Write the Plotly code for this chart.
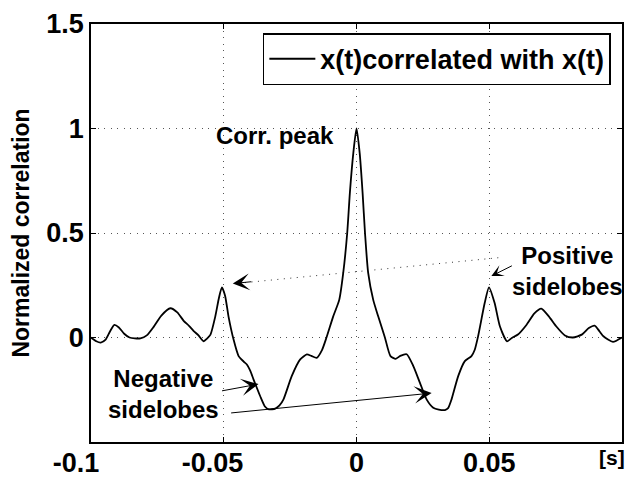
import plotly.graph_objects as go

# Normalized autocorrelation of x(t), lag axis in seconds
lag_s = [
    -0.1000, -0.0980, -0.0963, -0.0945, -0.0928, -0.0912, -0.0895, -0.0875,
    -0.0855, -0.0835, -0.0814, -0.0790, -0.0764, -0.0735, -0.0701, -0.0675,
    -0.0651, -0.0630, -0.0614, -0.0595, -0.0576, -0.0563, -0.0550, -0.0532,
    -0.0518, -0.0507, -0.0495, -0.0482, -0.0463, -0.0444, -0.0425, -0.0413,
    -0.0400, -0.0388, -0.0363, -0.0345, -0.0330, -0.0306, -0.0290, -0.0275,
    -0.0244, -0.0212, -0.0187, -0.0170, -0.0150, -0.0130, -0.0113, -0.0088,
    -0.0065, -0.0050, -0.0035, -0.0025, -0.0012, 0.0000, 0.0012, 0.0023,
    0.0032, 0.0044, 0.0063, 0.0082, 0.0107, 0.0128, 0.0148, 0.0165,
    0.0189, 0.0214, 0.0239, 0.0264, 0.0289, 0.0310, 0.0333, 0.0345,
    0.0358, 0.0383, 0.0408, 0.0433, 0.0445, 0.0458, 0.0483, 0.0499,
    0.0520, 0.0540, 0.0567, 0.0585, 0.0608, 0.0640, 0.0670, 0.0696,
    0.0725, 0.0752, 0.0785, 0.0815, 0.0850, 0.0875, 0.0897, 0.0915,
    0.0930, 0.0966, 0.1000,
]
corr = [
    0.000, -0.018, -0.024, -0.010, 0.030, 0.060, 0.048, 0.018,
    0.000, -0.004, -0.004, 0.010, 0.051, 0.105, 0.140, 0.120,
    0.080, 0.055, 0.032, 0.010, -0.018, -0.005, 0.014, 0.100,
    0.190, 0.240, 0.200, 0.100, -0.010, -0.089, -0.115, -0.129,
    -0.160, -0.200, -0.280, -0.330, -0.344, -0.340, -0.325, -0.296,
    -0.185, -0.105, -0.081, -0.088, -0.097, -0.060, 0.000, 0.100,
    0.180, 0.309, 0.500, 0.691, 0.882, 1.000, 0.882, 0.691,
    0.500, 0.309, 0.180, 0.100, 0.000, -0.089, -0.102, -0.088,
    -0.080, -0.137, -0.217, -0.296, -0.336, -0.345, -0.347, -0.338,
    -0.296, -0.185, -0.113, -0.089, -0.060, 0.006, 0.166, 0.240,
    0.166, 0.054, -0.018, -0.002, 0.014, 0.060, 0.115, 0.138,
    0.100, 0.054, 0.010, 0.000, 0.015, 0.045, 0.057, 0.030,
    0.006, -0.021, 0.000,
]

NBSP = "\u00a0"
x_ticks = [-0.1, -0.05, 0, 0.05, 0.1]
# negative labels carry trailing padding so the digits sit left of the tick
x_tick_text = ["-0.1" + NBSP * 4, "-0.05" + NBSP * 3, "0", "0.05", ""]
y_ticks = [0, 0.5, 1, 1.5]
y_tick_text = ["0", "0.5", "1", "1.5"]

FONT = "Liberation Sans, Arial, Helvetica, sans-serif"
GRID_DASH = "1px,5.5px"

fig = go.Figure()
fig.add_trace(go.Scatter(
    x=lag_s, y=corr, mode="lines",
    line=dict(color="black", width=1.8, shape="spline", smoothing=0.6),
    name="x(t)correlated with x(t)",
))

axis_common = dict(
    showline=True, linecolor="black", linewidth=1.5, mirror="ticks",
    ticks="inside", ticklen=5, tickwidth=1, tickcolor="black",
    showgrid=True, gridcolor="#555555", gridwidth=1, griddash=GRID_DASH,
    zeroline=False, automargin=False,
    tickfont=dict(family=FONT, size=27, color="black", weight="bold"),
)

fig.update_xaxes(
    range=[-0.1, 0.1], tickmode="array", tickvals=x_ticks, ticktext=x_tick_text,
    ticklabelstandoff=-4,
    **axis_common,
)
fig.update_yaxes(
    range=[-0.5, 1.5], tickmode="array", tickvals=y_ticks, ticktext=y_tick_text,
    title=dict(text="Normalized correlation", standoff=10,
               font=dict(family=FONT, size=23, color="black", weight="bold")),
    **axis_common,
)

# dotted pointer from the label to the left sidelobe
fig.add_shape(type="line", xref="x", yref="y",
              x0=-0.0420, y0=0.2625, x1=0.0547, y1=0.3833,
              line=dict(color="#333333", width=1, dash=GRID_DASH))

arrow = dict(text="", showarrow=True, arrowhead=3, arrowcolor="black",
             arrowwidth=1, xref="x", yref="y", axref="pixel", ayref="pixel")
fig.add_annotation(x=-0.0466, y=0.258, ax=20, ay=-2, arrowsize=2.8, **arrow)
fig.add_annotation(x=0.0508, y=0.294, ax=22, ay=-11, arrowsize=2.0, **arrow)
fig.add_annotation(x=-0.0369, y=-0.223, ax=-38, ay=7, arrowsize=2.9, **arrow)
fig.add_annotation(x=0.0283, y=-0.266, ax=-202, ay=20, arrowsize=2.9, **arrow)

label_font = dict(family=FONT, size=24, color="black", weight="bold")
fig.add_annotation(x=-0.0306, y=0.966, text="Corr. peak", showarrow=False,
                   xref="x", yref="y", font=label_font)
fig.add_annotation(x=0.0793, y=0.32, text="Positive<br>sidelobes", showarrow=False,
                   xref="x", yref="y", font=label_font)
fig.add_annotation(x=-0.0727, y=-0.272, text="Negative<br>sidelobes", showarrow=False,
                   xref="x", yref="y", font=label_font)
fig.add_annotation(x=0.9812, y=-0.036, text="[s]", showarrow=False,
                   xref="paper", yref="paper", xanchor="center", yanchor="middle",
                   font=dict(family=FONT, size=21, color="black", weight="bold"))

fig.update_layout(
    width=627, height=479,
    margin=dict(l=91, r=5, t=24, b=37, autoexpand=False),
    paper_bgcolor="white", plot_bgcolor="white",
    showlegend=True,
    legend=dict(
        x=0.979, y=0.978, xanchor="right", yanchor="top",
        bgcolor="white", bordercolor="black", borderwidth=1.5,
        font=dict(family=FONT, size=27, color="black", weight="bold"),
        itemwidth=46,
    ),
)

fig.write_html("out.html")
